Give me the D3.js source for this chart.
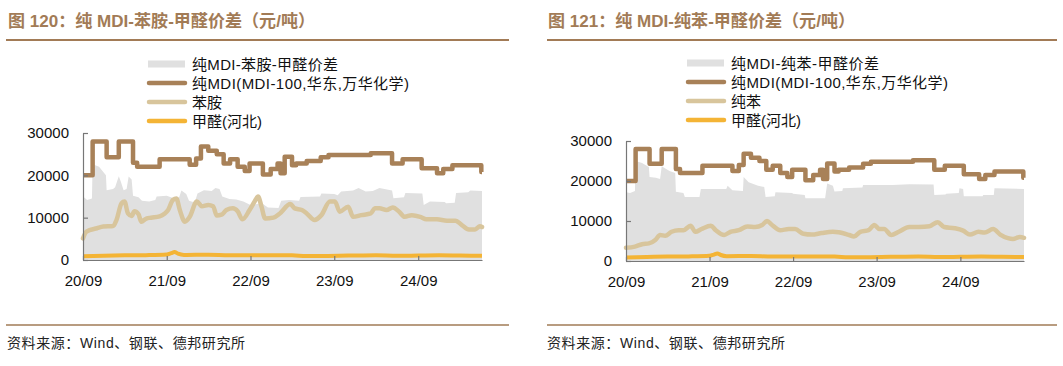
<!DOCTYPE html>
<html><head><meta charset="utf-8">
<script src="https://cdn.jsdelivr.net/npm/d3@7"></script>
<style>body{margin:0;background:#fff}svg{display:block}</style>
</head><body>
<svg id="c" width="1063" height="366"></svg>
<script>
// ---------- DATA ----------
const xTickDates = ["2020-09-01","2021-09-01","2022-09-01","2023-09-01","2024-09-01"];
const xTickLabels = ["20/09","21/09","22/09","23/09","24/09"];
const yTicks = [0, 10000, 20000, 30000];
const startDate = "2020-09-01", endDate = "2025-06-06";

// 纯MDI (MDI-100, 华东, 万华化学) — step series
const mdiDates = ["2020-09-01","2020-10-13","2020-12-13","2021-02-04","2021-04-07","2021-04-25","2021-08-01","2021-12-10","2022-01-07","2022-01-28","2022-03-01","2022-04-07","2022-05-07","2022-06-04","2022-07-07","2022-08-07","2022-08-28","2022-10-25","2022-11-28","2022-12-28","2023-01-10","2023-01-28","2023-03-01","2023-03-19","2023-05-04","2023-07-04","2023-08-07","2024-02-07","2024-05-10","2024-06-25","2024-09-16","2024-11-22","2024-12-19","2025-01-28","2025-06-03","2025-06-06"];
const mdiValues = [20000,28000,24300,28000,23000,22000,23800,22500,24000,26800,25800,25000,22800,23800,22000,21000,22800,20200,21500,22800,20500,24400,22400,22800,23400,24300,24800,25200,22800,23800,21700,20500,21500,22400,20800,20800];

// 甲醛(河北)
const formalinDates = ["2020-09-01","2020-12-01","2021-03-01","2021-06-01","2021-09-01","2021-09-20","2021-10-05","2021-10-20","2021-11-15","2022-03-01","2022-06-01","2022-09-01","2022-12-01","2023-03-01","2023-05-01","2023-07-01","2023-11-01","2024-03-01","2024-06-01","2024-09-01","2024-12-01","2025-03-01","2025-06-06"];
const formalinValues = [900,1000,1100,1150,1300,1600,1900,1500,1200,1250,1100,1150,1100,1100,950,950,1050,1150,1000,1050,1100,1050,1000];

// 苯胺
const anilineDates = ["2020-09-01","2020-09-16","2020-11-01","2020-11-28","2021-01-10","2021-01-25","2021-02-16","2021-03-01","2021-03-16","2021-04-01","2021-04-13","2021-05-01","2021-05-13","2021-06-04","2021-06-25","2021-08-01","2021-08-22","2021-09-07","2021-09-28","2021-10-13","2021-10-28","2021-11-19","2021-12-10","2022-01-10","2022-02-01","2022-03-01","2022-03-22","2022-04-07","2022-04-28","2022-05-19","2022-06-16","2022-07-07","2022-07-28","2022-08-28","2022-09-19","2022-10-04","2022-10-19","2022-11-04","2022-12-10","2023-01-07","2023-02-22","2023-03-13","2023-04-13","2023-05-04","2023-06-07","2023-07-07","2023-08-13","2023-09-04","2023-09-25","2023-11-01","2023-11-22","2023-12-28","2024-02-07","2024-02-25","2024-03-16","2024-04-16","2024-05-13","2024-06-10","2024-07-04","2024-08-04","2024-09-10","2024-10-07","2024-11-22","2025-01-04","2025-02-10","2025-03-10","2025-04-10","2025-05-07","2025-05-28","2025-06-06"];
const anilineValues = [5100,6700,7500,7900,8000,9450,13400,13800,11000,10400,11500,10800,9050,9800,10000,10300,10900,11800,14200,14500,11800,9050,10200,13800,12700,13000,12700,10500,10700,11800,12200,11500,9600,11800,13800,15000,12600,9800,10000,11000,13200,12200,11800,11000,9450,10600,13800,13800,11400,12600,10200,10600,11000,12200,12200,11800,12400,11400,10200,10600,10200,9600,9600,9300,9300,8250,7200,7200,8000,7800];

// 纯MDI-苯胺-甲醛价差
const spreadAnilineDates = ["2020-09-01","2020-09-19","2020-10-10","2020-10-13","2020-10-19","2020-11-10","2020-11-25","2020-12-10","2020-12-13","2021-01-10","2021-01-19","2021-02-04","2021-02-13","2021-02-25","2021-03-10","2021-03-19","2021-04-01","2021-04-07","2021-05-01","2021-05-16","2021-06-16","2021-07-13","2021-07-19","2021-09-01","2021-10-01","2021-10-25","2021-11-04","2021-11-25","2021-12-07","2022-01-01","2022-01-13","2022-02-10","2022-03-16","2022-04-01","2022-04-19","2022-05-01","2022-06-01","2022-07-01","2022-08-01","2022-09-01","2022-10-01","2022-10-16","2022-11-16","2023-01-01","2023-01-13","2023-02-16","2023-04-01","2023-04-07","2023-07-01","2023-07-07","2023-09-01","2023-09-16","2023-10-01","2023-11-22","2023-12-16","2024-01-16","2024-02-16","2024-03-16","2024-05-10","2024-05-16","2024-07-01","2024-07-07","2024-09-19","2024-09-25","2024-10-22","2024-12-25","2025-01-01","2025-02-07","2025-02-13","2025-04-07","2025-04-16","2025-06-06"];
const spreadAnilineValues = [15000,14200,14500,23000,22500,22000,21000,20000,16500,16800,17200,19800,18500,16500,16800,19700,19000,15200,14800,14000,13800,14200,15000,15200,14600,14800,16400,15600,14000,13600,15700,16500,16300,17000,16800,15000,14400,14300,13800,13000,13200,13600,12400,12300,14000,14200,14000,14900,15000,15700,15600,15300,16200,16400,17000,16200,16300,17000,16400,14600,14800,15800,15700,13000,13800,13700,13400,13500,15800,16000,16400,16300];

// 纯苯
const benzeneDates = ["2020-09-01","2020-10-10","2020-11-10","2020-12-10","2021-01-07","2021-01-28","2021-02-19","2021-03-19","2021-04-19","2021-05-10","2021-06-10","2021-07-01","2021-07-28","2021-09-07","2021-09-28","2021-11-04","2021-12-01","2022-01-07","2022-02-13","2022-03-19","2022-04-19","2022-05-10","2022-06-01","2022-07-07","2022-08-13","2022-09-10","2022-10-16","2022-11-22","2023-01-04","2023-02-22","2023-03-19","2023-05-04","2023-05-25","2023-06-22","2023-07-28","2023-08-22","2023-09-13","2023-10-04","2023-11-04","2023-12-07","2024-01-22","2024-03-04","2024-04-19","2024-05-25","2024-06-22","2024-08-07","2024-09-13","2024-10-13","2024-11-19","2024-12-16","2025-01-22","2025-02-22","2025-03-28","2025-04-19","2025-05-19","2025-06-06"];
const benzeneValues = [3300,3600,4200,4400,5250,6500,6300,7300,7700,7700,8800,7300,8000,8800,7700,6500,7300,7700,8600,8500,9000,10000,9000,7700,8000,8000,6800,6600,7000,7300,7200,6500,6100,7300,7700,9000,8000,8000,6500,7300,8500,8500,8700,9700,8500,8200,7600,6600,7300,7100,8000,6600,5700,5500,6000,5800];

// 纯MDI-纯苯-甲醛价差
const spreadBenzeneDates = ["2020-09-01","2020-09-19","2020-10-10","2020-10-13","2020-11-10","2020-12-10","2020-12-13","2021-01-10","2021-01-28","2021-02-04","2021-03-10","2021-04-04","2021-04-07","2021-05-10","2021-05-16","2021-07-19","2021-07-25","2021-11-13","2021-11-19","2021-12-10","2022-01-25","2022-01-28","2022-02-19","2022-04-01","2022-04-28","2022-05-04","2022-06-13","2022-06-16","2022-08-28","2022-09-01","2022-10-22","2022-10-25","2023-01-19","2023-01-28","2023-02-22","2023-03-01","2023-04-04","2023-04-07","2023-07-01","2023-07-04","2023-11-10","2024-01-22","2024-05-07","2024-05-10","2024-06-28","2024-07-01","2024-08-25","2024-08-28","2024-09-13","2024-09-16","2024-12-07","2024-12-10","2025-01-25","2025-01-28","2025-06-06"];
const spreadBenzeneValues = [17200,17000,17500,25000,24500,23500,21000,20800,20500,23700,22500,22000,17300,17000,16000,16000,18000,18000,18800,17700,17500,21000,19700,18800,18500,16000,16200,17200,17000,16800,16500,15700,15700,19400,18800,17400,17500,18200,18400,19000,19000,19200,19100,16500,16600,16800,17000,18200,18000,16200,16200,16500,16500,18200,18000];

// ---------- DRAW ----------
const parse = d3.timeParse("%Y-%m-%d");
const zip = (ds, vs) => ds.map((d, i) => ({date: parse(d), value: vs[i]}));

const COL_TITLE = "#A27B56", COL_MDI = "#A88158", COL_SECOND = "#D8C59C", COL_FORM = "#F4B435", COL_AREA = "#E0E0E0", COL_AXIS = "#777";
const LATIN = "'Liberation Sans', Arial, 'Noto Sans CJK SC', sans-serif";
const svg = d3.select("#c");

function drawChart(o) {
  const g = svg.append("g");
  // title
  g.append("text").attr("x", o.tx).attr("y", 27)
    .attr("font-family", LATIN).attr("font-weight", "bold").attr("font-size", 17)
    .attr("textLength", 307).attr("lengthAdjust", "spacingAndGlyphs")
    .attr("fill", COL_TITLE).text(o.title);
  g.append("line").attr("x1", o.lx0).attr("x2", o.lx1).attr("y1", 40).attr("y2", 40)
    .attr("stroke", COL_TITLE).attr("stroke-width", 2);
  g.append("line").attr("x1", o.lx0).attr("x2", o.lx1).attr("y1", 325).attr("y2", 325)
    .attr("stroke", "#B89C80").attr("stroke-width", 2);
  g.append("text").attr("x", o.tx - 1).attr("y", 348)
    .attr("font-family", LATIN).attr("font-size", 14).attr("fill", "#222")
    .attr("textLength", 238).attr("lengthAdjust", "spacing")
    .text("资料来源：Wind、钢联、德邦研究所");

  const x = d3.scaleTime().domain([parse(startDate), parse(endDate)]).range([o.x0, o.x1]);
  const y = d3.scaleLinear().domain([0, 30000]).range([o.y0, o.y1]);

  const spread = zip(o.spreadDates, o.spreadValues);
  g.append("path").datum(spread).attr("fill", COL_AREA)
    .attr("d", d3.area().x(d => x(d.date)).y0(y(0)).y1(d => y(d.value)));

  const mdi = zip(mdiDates, mdiValues);
  g.append("path").datum(mdi).attr("fill", "none").attr("stroke", COL_MDI).attr("stroke-width", 4.5)
    .attr("stroke-linejoin", "round")
    .attr("d", d3.line().curve(d3.curveStepAfter).x(d => x(d.date)).y(d => y(d.value)));

  const sec = zip(o.secDates, o.secValues);
  g.append("path").datum(sec).attr("fill", "none").attr("stroke", COL_SECOND).attr("stroke-width", 4.5)
    .attr("stroke-linejoin", "round").attr("stroke-linecap", "round")
    .attr("d", d3.line().curve(d3.curveMonotoneX).x(d => x(d.date)).y(d => y(d.value)));

  const form = zip(formalinDates, formalinValues);
  g.append("path").datum(form).attr("fill", "none").attr("stroke", COL_FORM).attr("stroke-width", 4)
    .attr("stroke-linejoin", "round")
    .attr("d", d3.line().curve(d3.curveMonotoneX).x(d => x(d.date)).y(d => y(d.value)));

  // axes
  const ya = g.append("g").attr("transform", `translate(${o.x0},0)`)
    .call(d3.axisLeft(y).tickValues(yTicks).tickSizeInner(-5).tickSizeOuter(0).tickPadding(14).tickFormat(d3.format("d")));
  const xa = g.append("g").attr("transform", `translate(0,${o.y0})`)
    .call(d3.axisBottom(x).tickValues(xTickDates.map(parse)).tickSizeInner(-4).tickSizeOuter(0).tickPadding(15)
      .tickFormat((d, i) => xTickLabels[i]));
  [ya, xa].forEach(a => {
    a.selectAll("path,line").attr("stroke", COL_AXIS).attr("stroke-width", 1.2);
    a.selectAll("text").attr("font-family", LATIN).attr("font-size", 15).attr("fill", "#111");
  });

  // legend
  const items = [
    {type: "rect", color: COL_AREA, label: o.legend[0], len: o.legLens[0]},
    {type: "line", color: COL_MDI, label: o.legend[1], len: o.legLens[1]},
    {type: "line", color: COL_SECOND, label: o.legend[2], len: null},
    {type: "line", color: COL_FORM, label: o.legend[3], len: null}
  ];
  items.forEach((it, i) => {
    const cy = o.legY + i * 19;
    if (it.type === "rect") {
      g.append("rect").attr("x", o.legX).attr("y", cy - 3.5).attr("width", 37).attr("height", 7).attr("fill", it.color);
    } else {
      g.append("line").attr("x1", o.legX + 1).attr("x2", o.legX + 37).attr("y1", cy).attr("y2", cy)
        .attr("stroke", it.color).attr("stroke-width", 4.5).attr("stroke-linecap", "round");
    }
    const t = g.append("text").attr("x", o.legX + 44).attr("y", cy + 5.5)
      .attr("font-family", LATIN).attr("font-size", 15).attr("fill", "#111").text(it.label);
    if (it.len) t.attr("textLength", it.len).attr("lengthAdjust", "spacing");
  });
}

drawChart({
  title: "图 120：纯 MDI-苯胺-甲醛价差（元/吨）", tx: 8, lx0: 6, lx1: 509,
  x0: 83, x1: 482, y0: 260, y1: 133,
  spreadDates: spreadAnilineDates, spreadValues: spreadAnilineValues,
  secDates: anilineDates, secValues: anilineValues,
  legX: 148, legY: 64, legLens: [146, 217],
  legend: ["纯MDI-苯胺-甲醛价差", "纯MDI(MDI-100,华东,万华化学)", "苯胺", "甲醛(河北)"]
});
drawChart({
  title: "图 121：纯 MDI-纯苯-甲醛价差（元/吨）", tx: 548, lx0: 547, lx1: 1057,
  x0: 626, x1: 1024, y0: 261, y1: 141,
  spreadDates: spreadBenzeneDates, spreadValues: spreadBenzeneValues,
  secDates: benzeneDates, secValues: benzeneValues,
  legX: 687, legY: 63, legLens: [148, 217],
  legend: ["纯MDI-纯苯-甲醛价差", "纯MDI(MDI-100,华东,万华化学)", "纯苯", "甲醛(河北)"]
});
</script>
</body></html>
